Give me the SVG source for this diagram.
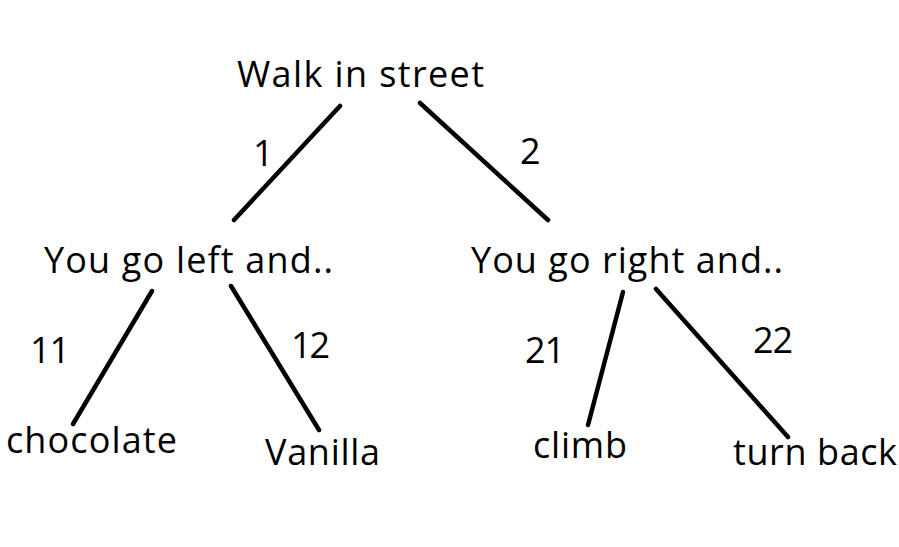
<svg xmlns="http://www.w3.org/2000/svg" width="899" height="547" viewBox="0 0 899 547">
<style>
text{font-family:"Open Sans","Noto Sans","Liberation Sans",sans-serif;font-size:36px;font-weight:500;fill:#000}
.edge{stroke:#000;stroke-width:4.5;stroke-linecap:round;fill:none}
</style>
<rect width="899" height="547" fill="#fff"/>
<g id="connectors">
<line class="edge" x1="340" y1="106" x2="234" y2="220"/>
<line class="edge" x1="420" y1="103" x2="548" y2="220"/>
<line class="edge" x1="152" y1="291" x2="73" y2="424"/>
<line class="edge" x1="231" y1="286" x2="319" y2="430"/>
<line class="edge" x1="623" y1="292" x2="588" y2="425"/>
<line class="edge" x1="656" y1="289" x2="788" y2="437"/>
<text x="253" y="166" textLength="17">1</text>
<text x="520" y="164" textLength="19">2</text>
<text x="30" y="363" textLength="40">11</text>
<text x="291" y="358" textLength="39">12</text>
<text x="525" y="363" textLength="40">21</text>
<text x="753" y="353" textLength="40">22</text>
</g>
<g id="root"><text x="237" y="87" textLength="247">Walk in street</text></g>
<g id="left"><text x="44" y="273" textLength="289">You go left and..</text></g>
<g id="right"><text x="471" y="273" textLength="312">You go right and..</text></g>
<g id="chocolate"><text x="6" y="453" textLength="171">chocolate</text></g>
<g id="vanilla"><text x="265" y="465" textLength="115">Vanilla</text></g>
<g id="climb"><text x="533" y="458" textLength="94">climb</text></g>
<g id="turnback"><text x="733" y="465" textLength="164">turn back</text></g>
</svg>
